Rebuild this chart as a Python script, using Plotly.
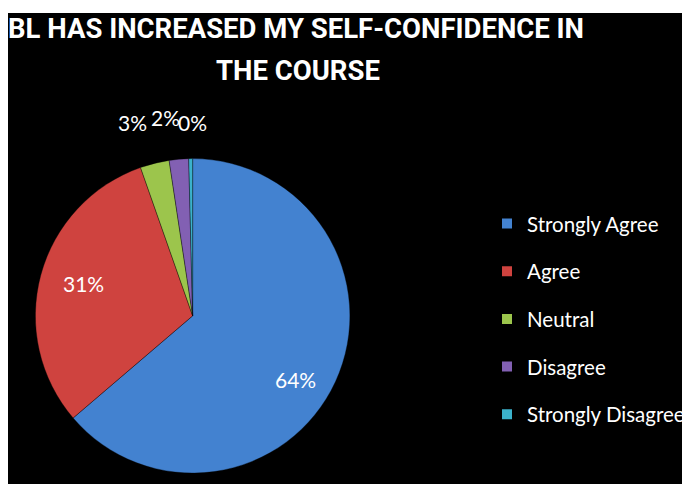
import plotly.graph_objects as go

categories = ["Strongly Agree", "Agree", "Neutral", "Disagree", "Strongly Disagree"]
values = [64, 31, 3, 2, 0.4]
pct_text = [f"{round(v)}%" for v in values]
colors = ["#4382d0", "#cf433f", "#9cc54c", "#8260b3", "#3bb2cb"]
title_lines = ["BL HAS INCREASED MY SELF-CONFIDENCE IN", "THE COURSE"]

# label placement (paper coords) - layout only
label_pos = [(0.4253, 0.2213), (0.1115, 0.4255), (0.1833, 0.7665), (0.2331, 0.779), (0.2727, 0.7665)]
title_pos = [(0.4252, 0.968), (0.429, 0.877)]

fig = go.Figure()
fig.add_trace(go.Pie(
    labels=categories,
    values=values,
    textinfo="none",
    sort=False,
    direction="clockwise",
    rotation=0,
    marker=dict(colors=colors, line=dict(color="rgba(0,0,0,0.35)", width=1)),
    domain=dict(x=[0.0405, 0.505], y=[0.018, 0.696]),
    hoverinfo="label+percent",
    showlegend=False,
))

# legend entries drawn by the library via empty marker traces
for cat, col in zip(categories, colors):
    fig.add_trace(go.Scatter(
        x=[None], y=[None], mode="markers", name=cat, legendgroup=cat,
        marker=dict(symbol="square", size=10, color=col),
    ))

annotations = []
for (x, y), t in zip(label_pos, pct_text):
    annotations.append(dict(x=x, y=y, xref="paper", yref="paper", text=t, showarrow=False,
                            xanchor="center", yanchor="middle",
                            font=dict(family="Lato", size=21, color="white")))
for (x, y), t in zip(title_pos, title_lines):
    annotations.append(dict(x=x, y=y, xref="paper", yref="paper", text="<b>" + t + "</b>",
                            showarrow=False, xanchor="center", yanchor="middle",
                            font=dict(family="Roboto", size=27.5, color="white")))

fig.update_layout(
    width=682, height=483,
    paper_bgcolor="white",
    plot_bgcolor="black",
    margin=dict(l=0, r=0, t=5, b=7),
    xaxis=dict(visible=False),
    yaxis=dict(visible=False),
    shapes=[dict(type="rect", xref="paper", yref="paper", x0=0, x1=1, y0=0, y1=1,
                 fillcolor="black", line=dict(width=0), layer="below")],
    annotations=annotations,
    legend=dict(x=0.708, y=0.595, xanchor="left", yanchor="top",
                tracegroupgap=18,
                font=dict(family="Lato", size=20.5, color="white"),
                bgcolor="rgba(0,0,0,0)"),
    showlegend=True,
)

fig.write_html("out.html")
